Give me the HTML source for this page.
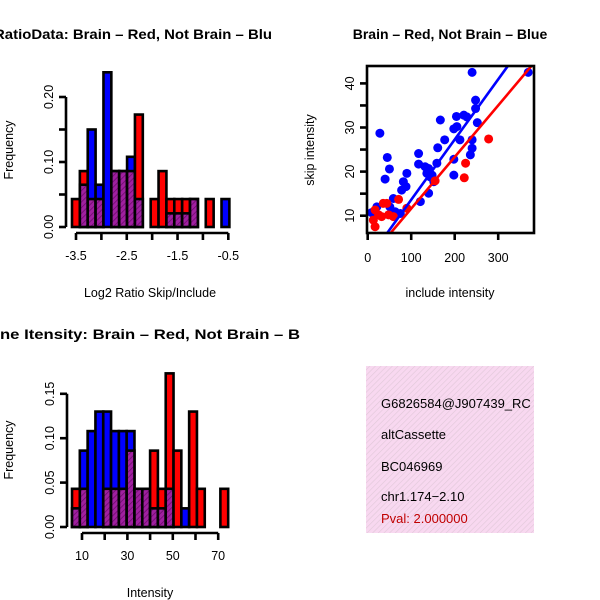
<!DOCTYPE html>
<html><head><meta charset="utf-8"><style>
html,body{margin:0;padding:0;background:#fff;}
svg{display:block;font-family:"Liberation Sans",sans-serif;}
</style></head><body>
<svg id="c" width="600" height="600" viewBox="0 0 600 600" xmlns="http://www.w3.org/2000/svg">
<defs>
<pattern id="hatch" width="4" height="4" patternUnits="userSpaceOnUse" patternTransform="rotate(45)">
<rect width="4" height="4" fill="#a020a0"/><line x1="0" y1="0" x2="0" y2="4" stroke="#6a0a6a" stroke-width="1.5"/>
</pattern>
<pattern id="pinkhatch" width="4" height="4" patternUnits="userSpaceOnUse" patternTransform="rotate(45)">
<rect width="4" height="4" fill="#f8d8f0"/><line x1="0" y1="0" x2="0" y2="4" stroke="#e0c8d8" stroke-width="1.2"/>
</pattern>
<clipPath id="scClip"><rect x="367" y="66" width="167" height="167"/></clipPath>
</defs>
<g id="p1"></g>
<g id="p2"></g>
<g id="p3"></g>
<g>
<rect x="366" y="366" width="168" height="167" fill="url(#pinkhatch)"/>
<svg x="366" y="366" width="168" height="167" overflow="hidden">
<g font-size="13">
<text x="15" y="42" fill="#000">G6826584@J907439_RC</text>
<text x="15" y="73" fill="#000">altCassette</text>
<text x="15" y="105" fill="#000">BC046969</text>
<text x="15" y="135" fill="#000">chr1.174−2.10</text>
<text x="15" y="157" fill="#c00000">Pval: 2.000000</text>
</g></svg>
</g>
</svg>
<script>
// ---- Panel 1 data: log2 ratio histogram ----
const ratioBinStart = -3.579;
const ratioBinWidth = 0.155;
const ratioRed = [0.043,0.086,0.043,0.043,0,0.086,0.086,0.086,0.173,0,0.043,0.086,0.043,0.043,0.043,0.043,0,0.043,0,0];
const ratioBlue = [0,0.065,0.15,0.065,0.238,0.086,0.086,0.108,0.043,0,0,0,0.021,0.021,0.021,0.043,0,0,0,0.043];
const ratioXTicks = [-3.5,-3,-2.5,-2,-1.5,-1,-0.5];
const ratioXLabels = ["-3.5","","-2.5","","-1.5","","-0.5"];
const ratioYTicks = [0,0.05,0.1,0.15,0.2];
const ratioYLabels = ["0.00","","0.10","","0.20"];
// ---- Panel 3 data: intensity histogram ----
const intBinStart = 5.6;
const intBinWidth = 3.44;
const intRed = [0.043,0.043,0,0,0.043,0.043,0.043,0.086,0.043,0.043,0.086,0.043,0.173,0.086,0,0.13,0.043,0,0,0.043];
const intBlue = [0.021,0.086,0.108,0.13,0.13,0.108,0.108,0.108,0.043,0.043,0.021,0.021,0.043,0,0.021,0,0,0,0,0];
const intXTicks = [10,20,30,40,50,60,70];
const intXLabels = ["10","","30","","50","","70"];
const intYTicks = [0,0.05,0.1,0.15];
const intYLabels = ["0.00","0.05","0.10","0.15"];
// ---- Panel 2 data: scatter ----
const blueX = [369,240,28,45,50,40,167,177,161,117,117,132,136,140,148,152,159,144,140,121,90,82,88,78,59,51,63,75,21,9,17,198,205,204,221,212,198,198,248,248,252,240,240,236,228];
const blueY = [42.5,42.5,28.7,23.2,20.6,18.3,31.7,27.2,25.4,24.1,21.7,21.1,19.6,20.7,19.2,17.7,21.9,18.8,15.1,13.2,19.6,17.7,16.6,15.8,13.9,12.0,10.9,10.5,12.0,10.7,10.2,29.7,30.2,32.5,32.8,27.2,22.8,19.2,36.2,34.3,31.1,27.2,25.3,23.8,32.4];
const redX = [278,225,222,155,71,90,36,44,48,32,17,13,17,25,59];
const redY = [27.4,21.9,18.6,17.9,13.7,11.7,12.8,12.8,10.2,9.8,11.3,9.0,7.5,10.2,9.8];
const blueFit = [-0.05,0.1366];
const redFit = [-0.09,0.117];
const scXTicks = [0,100,200,300];
const scYTicks = [10,15,20,25,30,35,40];
const scYLabels = ["10","","20","","30","","40"];

const NS="http://www.w3.org/2000/svg";
function mk(parent,tag,attrs,text){const e=document.createElementNS(NS,tag);for(const k in attrs)e.setAttribute(k,attrs[k]);if(text!==undefined)e.textContent=text;parent.appendChild(e);return e;}

function histogram(g,o){
  const sx=v=>o.x0+(v-o.d0)*o.kx, sy=v=>o.y0-v*o.ky;
  for(let i=0;i<o.red.length;i++){
    const a=o.binStart+i*o.binW, b=a+o.binW, r=o.red[i], bl=o.blue[i];
    const x=sx(a), w=sx(b)-sx(a);
    const hi=Math.max(r,bl), lo=Math.min(r,bl);
    if(hi>0){const e=mk(g,'rect',{x:x,y:sy(hi),width:w,height:sy(0)-sy(hi),fill:r>=bl?'#ff0000':'#0000ff',stroke:'#000','stroke-width':2.6});
      
      }
    if(lo>0){const e=mk(g,'rect',{x:x,y:sy(lo),width:w,height:sy(0)-sy(lo),fill:'url(#hatch)',stroke:'#000','stroke-width':2.6});
      
      }
  }
  const xa=mk(g,'g',{});
  
  
  mk(xa,'line',{x1:sx(o.xt[0]),x2:sx(o.xt[o.xt.length-1]),y1:o.axY,y2:o.axY,stroke:'#000','stroke-width':2.6});
  o.xt.forEach((t,i)=>{mk(xa,'line',{x1:sx(t),x2:sx(t),y1:o.axY,y2:o.axY+7,stroke:'#000','stroke-width':2.6});
    if(o.xl[i]){const e=mk(xa,'text',{x:sx(t),y:o.axY+27,'text-anchor':'middle','font-size':12.5},o.xl[i]);
      
      }});
  const ya=mk(g,'g',{});
  
  
  mk(ya,'line',{x1:o.axX,x2:o.axX,y1:sy(o.yt[0]),y2:sy(o.yt[o.yt.length-1]),stroke:'#000','stroke-width':2.6});
  o.yt.forEach((t,i)=>{mk(ya,'line',{x1:o.axX-7,x2:o.axX,y1:sy(t),y2:sy(t),stroke:'#000','stroke-width':2.6});
    if(o.yl[i]){const e=mk(ya,'text',{x:0,y:0,transform:`translate(${o.axX-13},${sy(t)}) rotate(-90)`,'text-anchor':'middle','font-size':12.5},o.yl[i]);
      
      }});
}

const p1=document.getElementById('p1');
histogram(p1,{x0:76,d0:-3.5,kx:50.77,y0:227,ky:650,binStart:ratioBinStart,binW:ratioBinWidth,red:ratioRed,blue:ratioBlue,xt:ratioXTicks,xl:ratioXLabels,yt:ratioYTicks,yl:ratioYLabels,axY:233,axX:66});
let t=mk(p1,'text',{x:-6,y:39,'font-size':14,'font-weight':'bold',textLength:278,lengthAdjust:'spacingAndGlyphs'},'RatioData: Brain – Red, Not Brain – Blu');


t=mk(p1,'text',{x:150,y:297,'text-anchor':'middle','font-size':12.5},'Log2 Ratio Skip/Include');


t=mk(p1,'text',{x:0,y:0,transform:'translate(13,150) rotate(-90)','text-anchor':'middle','font-size':12.5},'Frequency');



const p3=document.getElementById('p3');
histogram(p3,{x0:82,d0:10,kx:2.27,y0:527,ky:888,binStart:intBinStart,binW:intBinWidth,red:intRed,blue:intBlue,xt:intXTicks,xl:intXLabels,yt:intYTicks,yl:intYLabels,axY:533,axX:67});
t=mk(p3,'text',{x:0,y:339,'font-size':14,'font-weight':'bold',textLength:300,lengthAdjust:'spacingAndGlyphs'},'ne Itensity: Brain – Red, Not Brain – B');


t=mk(p3,'text',{x:150,y:597,'text-anchor':'middle','font-size':12.5},'Intensity');


t=mk(p3,'text',{x:0,y:0,transform:'translate(13,450) rotate(-90)','text-anchor':'middle','font-size':12.5},'Frequency');



const p2=document.getElementById('p2');
const X=v=>367.7+v*0.435, Y=v=>215.7-(v-10)*4.41;
const pts=mk(p2,'g',{'clip-path':'url(#scClip)'});
blueX.forEach((v,i)=>{const c=mk(pts,'circle',{cx:X(v),cy:Y(blueY[i]),r:4.5,fill:'#0000ff'});
  
  });
redX.forEach((v,i)=>{const c=mk(pts,'circle',{cx:X(v),cy:Y(redY[i]),r:4.5,fill:'#ff0000'});
  
  });
[[blueFit,'#0000ff','blue-fit-line'],[redFit,'#ff0000','red-fit-line']].forEach(([f,col,n])=>{
  const l=mk(pts,'line',{x1:X(0),y1:Y(f[0]),x2:X(400),y2:Y(f[0]+f[1]*400),stroke:col,'stroke-width':2.6});
  
  });
const box=mk(p2,'rect',{x:367,y:66,width:167,height:167,fill:'none',stroke:'#000','stroke-width':2.6});


scXTicks.forEach(v=>{mk(p2,'line',{x1:X(v),x2:X(v),y1:233,y2:240,stroke:'#000','stroke-width':2.6});
  const e=mk(p2,'text',{x:X(v),y:262,'text-anchor':'middle','font-size':12.5},String(v));
  
  });
scYTicks.forEach((v,i)=>{mk(p2,'line',{x1:360,x2:367,y1:Y(v),y2:Y(v),stroke:'#000','stroke-width':2.6});
  if(scYLabels[i]){const e=mk(p2,'text',{x:0,y:0,transform:`translate(354,${Y(v)}) rotate(-90)`,'text-anchor':'middle','font-size':12.5},scYLabels[i]);
  
  }});
t=mk(p2,'text',{x:450,y:39,'text-anchor':'middle','font-size':14,'font-weight':'bold'},'Brain – Red, Not Brain – Blue');


t=mk(p2,'text',{x:450,y:297,'text-anchor':'middle','font-size':12.5},'include intensity');


t=mk(p2,'text',{x:0,y:0,transform:'translate(314,150) rotate(-90)','text-anchor':'middle','font-size':12.5},'skip intensity');


</script>
</body></html>
